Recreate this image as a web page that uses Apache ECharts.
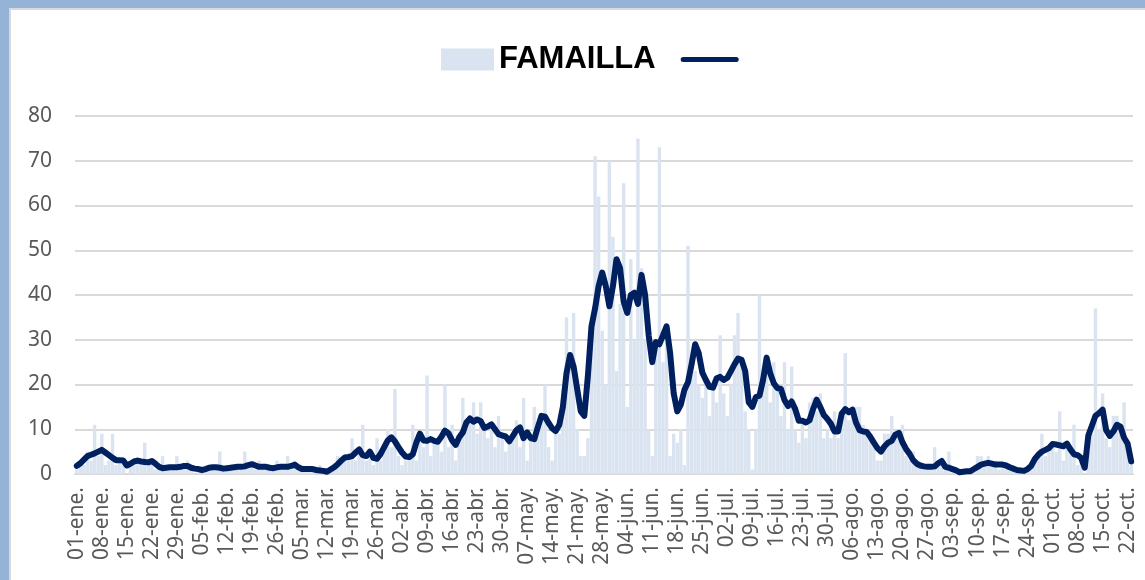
<!DOCTYPE html>
<html>
<head>
<meta charset="utf-8">
<title>FAMAILLA</title>
<script src="https://cdn.jsdelivr.net/npm/echarts@6/dist/echarts.min.js"></script>
<style>
  html, body { margin: 0; padding: 0; background: #fff; }
  #chart { width: 1145px; height: 580px; }
</style>
</head>
<body>
<div id="chart"></div>
<script>
  // casos diarios (barras), desde el 01-ene
  var casos = [
    1, 2, 2, 5, 3, 11, 4,
    9, 2, 3, 9, 2, 3, 2,
    0, 3, 2, 3, 2, 7, 2,
    3, 1, 1, 4, 1, 1, 1,
    4, 1, 2, 3, 1, 0, 1,
    0, 1, 2, 1, 1, 5, 1,
    1, 1, 2, 1, 1, 5, 2,
    2, 1, 3, 1, 2, 1, 1,
    3, 1, 2, 4, 1, 2, 1,
    2, 1, 1, 1, 0, 2, 0,
    0, 1, 2, 4, 3, 4, 3,
    8, 3, 6, 11, 3, 4, 2,
    8, 3, 5, 10, 6, 19, 4,
    2, 3, 4, 11, 3, 8, 6,
    22, 4, 7, 8, 5, 20, 6,
    11, 3, 8, 17, 10, 12, 16,
    9, 16, 10, 8, 11, 6, 13,
    9, 5, 7, 8, 12, 6, 17,
    3, 8, 15, 11, 12, 20, 6,
    3, 10, 9, 19, 35, 27, 36,
    10, 4, 4, 8, 28, 71, 62,
    32, 20, 70, 53, 23, 38, 65,
    15, 48, 30, 75, 46, 30, 10,
    4, 30, 73, 25, 30, 4, 9,
    7, 10, 2, 51, 22, 23, 20,
    17, 20, 13, 19, 16, 31, 18,
    13, 20, 31, 36, 25, 14, 10,
    1, 10, 40, 22, 26, 16, 25,
    19, 13, 25, 10, 24, 10, 7,
    12, 8, 16, 17, 14, 18, 8,
    10, 8, 14, 8, 14, 27, 12,
    13, 15, 15, 11, 9, 8, 7,
    3, 3, 9, 9, 13, 8, 8,
    11, 4, 3, 5, 2, 2, 2,
    1, 2, 6, 2, 3, 1, 5,
    0, 1, 0, 1, 0, 1, 1,
    4, 4, 2, 4, 2, 3, 1,
    2, 2, 1, 1, 0, 1, 0,
    1, 2, 4, 5, 9, 4, 6,
    7, 5, 14, 3, 7, 5, 11,
    2, 3, 0, 5, 9, 37, 10,
    18, 8, 6, 13, 13, 10, 16,
    7, 2
  ];

  // promedio (linea)
  var promedio = [
    1.8, 2.4, 3.2, 4.0, 4.3, 4.6, 5.0,
    5.4, 4.8, 4.2, 3.6, 3.1, 3.1, 3.0,
    1.9, 2.3, 2.8, 3.0, 2.8, 2.7, 2.6,
    2.9, 2.3, 1.6, 1.3, 1.4, 1.5, 1.5,
    1.5, 1.6, 1.8, 1.8, 1.4, 1.2, 1.1,
    0.9, 1.1, 1.4, 1.5, 1.5, 1.4, 1.2,
    1.3, 1.4, 1.5, 1.6, 1.6, 1.7, 2.0,
    2.2, 1.9, 1.6, 1.6, 1.6, 1.4, 1.3,
    1.5, 1.6, 1.6, 1.6, 1.8, 2.1, 1.5,
    1.1, 1.1, 1.1, 1.1, 0.9, 0.8, 0.7,
    0.5, 1.0, 1.5, 2.2, 3.0, 3.7, 3.8,
    4.0, 4.8, 5.5, 4.2, 4.0, 5.0, 3.6,
    3.4, 4.5, 6.0, 7.5, 8.2, 7.3, 6.0,
    4.8, 3.9, 3.8, 4.4, 7.0, 9.0, 7.5,
    7.4, 7.8, 7.4, 7.2, 8.3, 9.7, 9.1,
    7.5, 6.5, 8.2, 9.3, 11.5, 12.4, 11.7,
    12.2, 11.8, 10.3, 10.6, 11.1, 10.0, 8.9,
    8.6, 8.4, 7.3, 8.5, 9.8, 10.4, 8.0,
    9.3, 8.0, 7.8, 10.5, 13.0, 12.8, 11.4,
    10.2, 9.6, 11.0, 15.0, 22.5, 26.6, 24.0,
    19.0, 14.0, 13.0, 22.0, 33.0, 37.0, 42.0,
    45.0, 42.0, 37.5, 42.0, 48.0, 46.0, 38.5,
    36.0, 40.0, 40.5, 38.0, 44.5, 40.0, 31.0,
    25.0, 29.5, 29.0, 31.0, 33.0, 27.0, 18.0,
    14.0, 15.5, 18.8, 20.5, 24.5, 29.0, 27.0,
    22.7, 21.0, 19.5, 19.3, 21.4, 21.7, 21.0,
    21.5, 23.0, 24.5, 25.8, 25.5, 23.0, 16.0,
    15.0, 17.2, 17.5, 21.0, 26.0, 22.5, 20.3,
    19.2, 19.0, 16.5, 15.2, 16.2, 14.5, 11.9,
    11.9, 11.5, 12.0, 14.5, 16.6, 15.0, 13.2,
    12.3, 11.2, 9.5, 9.5, 13.5, 14.5, 13.8,
    14.4, 11.5, 9.8, 9.5, 9.4, 8.3, 7.0,
    5.8, 5.0, 6.2, 7.0, 7.4, 8.8, 9.2,
    7.1, 5.6, 4.5, 3.1, 2.3, 1.9, 1.7,
    1.6, 1.6, 1.7, 2.4, 2.9, 1.6, 1.4,
    1.1, 0.8, 0.4, 0.5, 0.6, 0.6, 1.1,
    1.6, 2.1, 2.3, 2.5, 2.3, 2.1, 2.1,
    2.1, 1.9, 1.5, 1.2, 0.9, 0.8, 0.7,
    1.1, 1.8, 3.3, 4.3, 5.0, 5.4, 5.8,
    6.7, 6.6, 6.4, 6.2, 6.8, 5.5, 4.4,
    4.2, 3.6, 1.4, 8.6, 10.8, 13.0, 13.6,
    14.4, 9.8, 8.5, 9.5, 11.0, 10.6, 8.1,
    6.8, 2.8
  ];

  var meses = ['ene', 'feb', 'mar', 'abr', 'may', 'jun', 'jul', 'ago', 'sep', 'oct'];
  var diasMes = [31, 28, 31, 30, 31, 30, 31, 31, 30, 31];
  var ticksY = [0, 10, 20, 30, 40, 50, 60, 70, 80];

  var fechas = [];
  for (var m = 0; m < meses.length; m++) {
    for (var d = 1; d <= diasMes[m]; d++) {
      fechas.push(('0' + d).slice(-2) + '-' + meses[m] + '.');
    }
  }
  fechas = fechas.slice(0, casos.length);

  var chart = echarts.init(document.getElementById('chart'));
  chart.setOption({
    animation: false,
    graphic: [
      {type: 'rect', shape: {x: 0, y: 0, width: 1145, height: 8}, style: {fill: '#95b3d7'}},
      {type: 'rect', shape: {x: 0, y: 0, width: 9, height: 580}, style: {fill: '#95b3d7'}},
      {type: 'rect', shape: {x: 9, y: 8, width: 1136, height: 2}, style: {fill: '#d9d9d9'}},
      {type: 'rect', shape: {x: 9, y: 8, width: 2, height: 572}, style: {fill: '#d9d9d9'}}
    ],
    legend: {
      left: 441,
      top: 44,
      padding: 0,
      itemWidth: 53,
      itemHeight: 22,
      itemGap: 25,
      lineStyle: {width: 5, cap: 'round'},
      textStyle: {
        fontFamily: 'Liberation Sans',
        fontWeight: 'bold',
        fontSize: 31,
        color: '#000'
      },
      data: [{name: 'FAMAILLA', icon: 'rect'}, {name: ' '}]
    },
    grid: {
      left: 75,
      right: 12,
      top: 116,
      bottom: 106
    },
    xAxis: {
      type: 'category',
      data: fechas,
      axisLine: {lineStyle: {color: '#d9d9d9', width: 2}},
      axisTick: {show: false},
      axisLabel: {
        interval: 6,
        rotate: 90,
        margin: 13,
        color: '#595959',
        fontSize: 21,
        fontFamily: 'Noto Sans'
      }
    },
    yAxis: {
      type: 'value',
      min: ticksY[0],
      max: ticksY[ticksY.length - 1],
      interval: 10,
      axisLine: {show: false},
      axisTick: {show: false},
      axisLabel: {
        margin: 23,
        color: '#595959',
        fontSize: 21,
        fontFamily: 'Noto Sans'
      },
      splitLine: {lineStyle: {color: '#d9d9d9', width: 2}}
    },
    series: [
      {
        name: 'FAMAILLA',
        type: 'bar',
        data: casos,
        barCategoryGap: '5%',
        itemStyle: {color: '#dae3f0'}
      },
      {
        name: ' ',
        type: 'line',
        data: promedio,
        symbol: 'none',
        z: 5,
        lineStyle: {color: '#002060', width: 6, cap: 'round', join: 'round'},
        itemStyle: {color: 'rgba(0,0,0,0)'}
      }
    ]
  });
</script>
</body>
</html>
